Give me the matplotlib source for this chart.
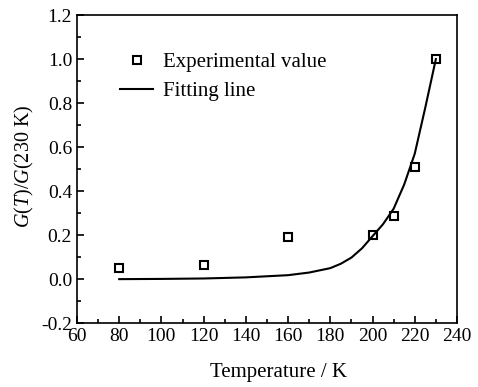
import matplotlib.pyplot as plt
from matplotlib.ticker import MultipleLocator

plt.rcParams['font.family'] = ['Liberation Serif', 'DejaVu Serif']
plt.rcParams['mathtext.fontset'] = 'custom'
plt.rcParams['mathtext.it'] = 'Liberation Serif:italic'
plt.rcParams['mathtext.rm'] = 'Liberation Serif'

# experimental points
temp_exp = [80, 120, 160, 200, 210, 220, 230]
g_exp = [0.05, 0.065, 0.19, 0.20, 0.286, 0.508, 1.0]

# fitting line
temp_fit = [80, 100, 120, 140, 160, 170, 180, 185, 190, 195, 200, 205, 210, 215, 220, 225, 230]
g_fit = [0.0, 0.001, 0.003, 0.008, 0.018, 0.03, 0.05, 0.07, 0.098, 0.14, 0.195, 0.25, 0.32, 0.43, 0.57, 0.78, 1.0]

fig = plt.figure(figsize=(4.78, 3.87), dpi=100)
ax = fig.add_axes([0.161, 0.165, 0.795, 0.796])

ax.plot(temp_exp, g_exp, 's', mfc='white', mec='black', mew=1.5, ms=6, label='Experimental value')
ax.plot(temp_fit, g_fit, '-', color='black', lw=1.5, label='Fitting line')

ax.set_xlim(60, 240)
ax.set_ylim(-0.2, 1.2)
ax.xaxis.set_major_locator(MultipleLocator(20))
ax.xaxis.set_minor_locator(MultipleLocator(10))
ax.yaxis.set_major_locator(MultipleLocator(0.2))
ax.yaxis.set_minor_locator(MultipleLocator(0.1))
ax.yaxis.set_major_formatter(plt.FuncFormatter(lambda v, p: f"{v:.1f}"))
ax.tick_params(which='both', direction='in', labelsize=14, width=1.2)
ax.tick_params(which='major', length=5)
ax.tick_params(which='minor', length=3)
for s in ax.spines.values():
    s.set_linewidth(1.2)

ax.set_xlabel('Temperature / K', fontsize=15, labelpad=13, x=0.53)
ax.set_ylabel(r'$G$($T$)/$G$(230 K)', fontsize=14.5, labelpad=4, y=0.51)

ax.legend(loc='upper left', bbox_to_anchor=(0.113, 0.878), frameon=False, fontsize=15,
          borderpad=0, borderaxespad=0, handlelength=1.6, handletextpad=0.45, labelspacing=0.45)

fig.savefig('out.png', dpi=100)
